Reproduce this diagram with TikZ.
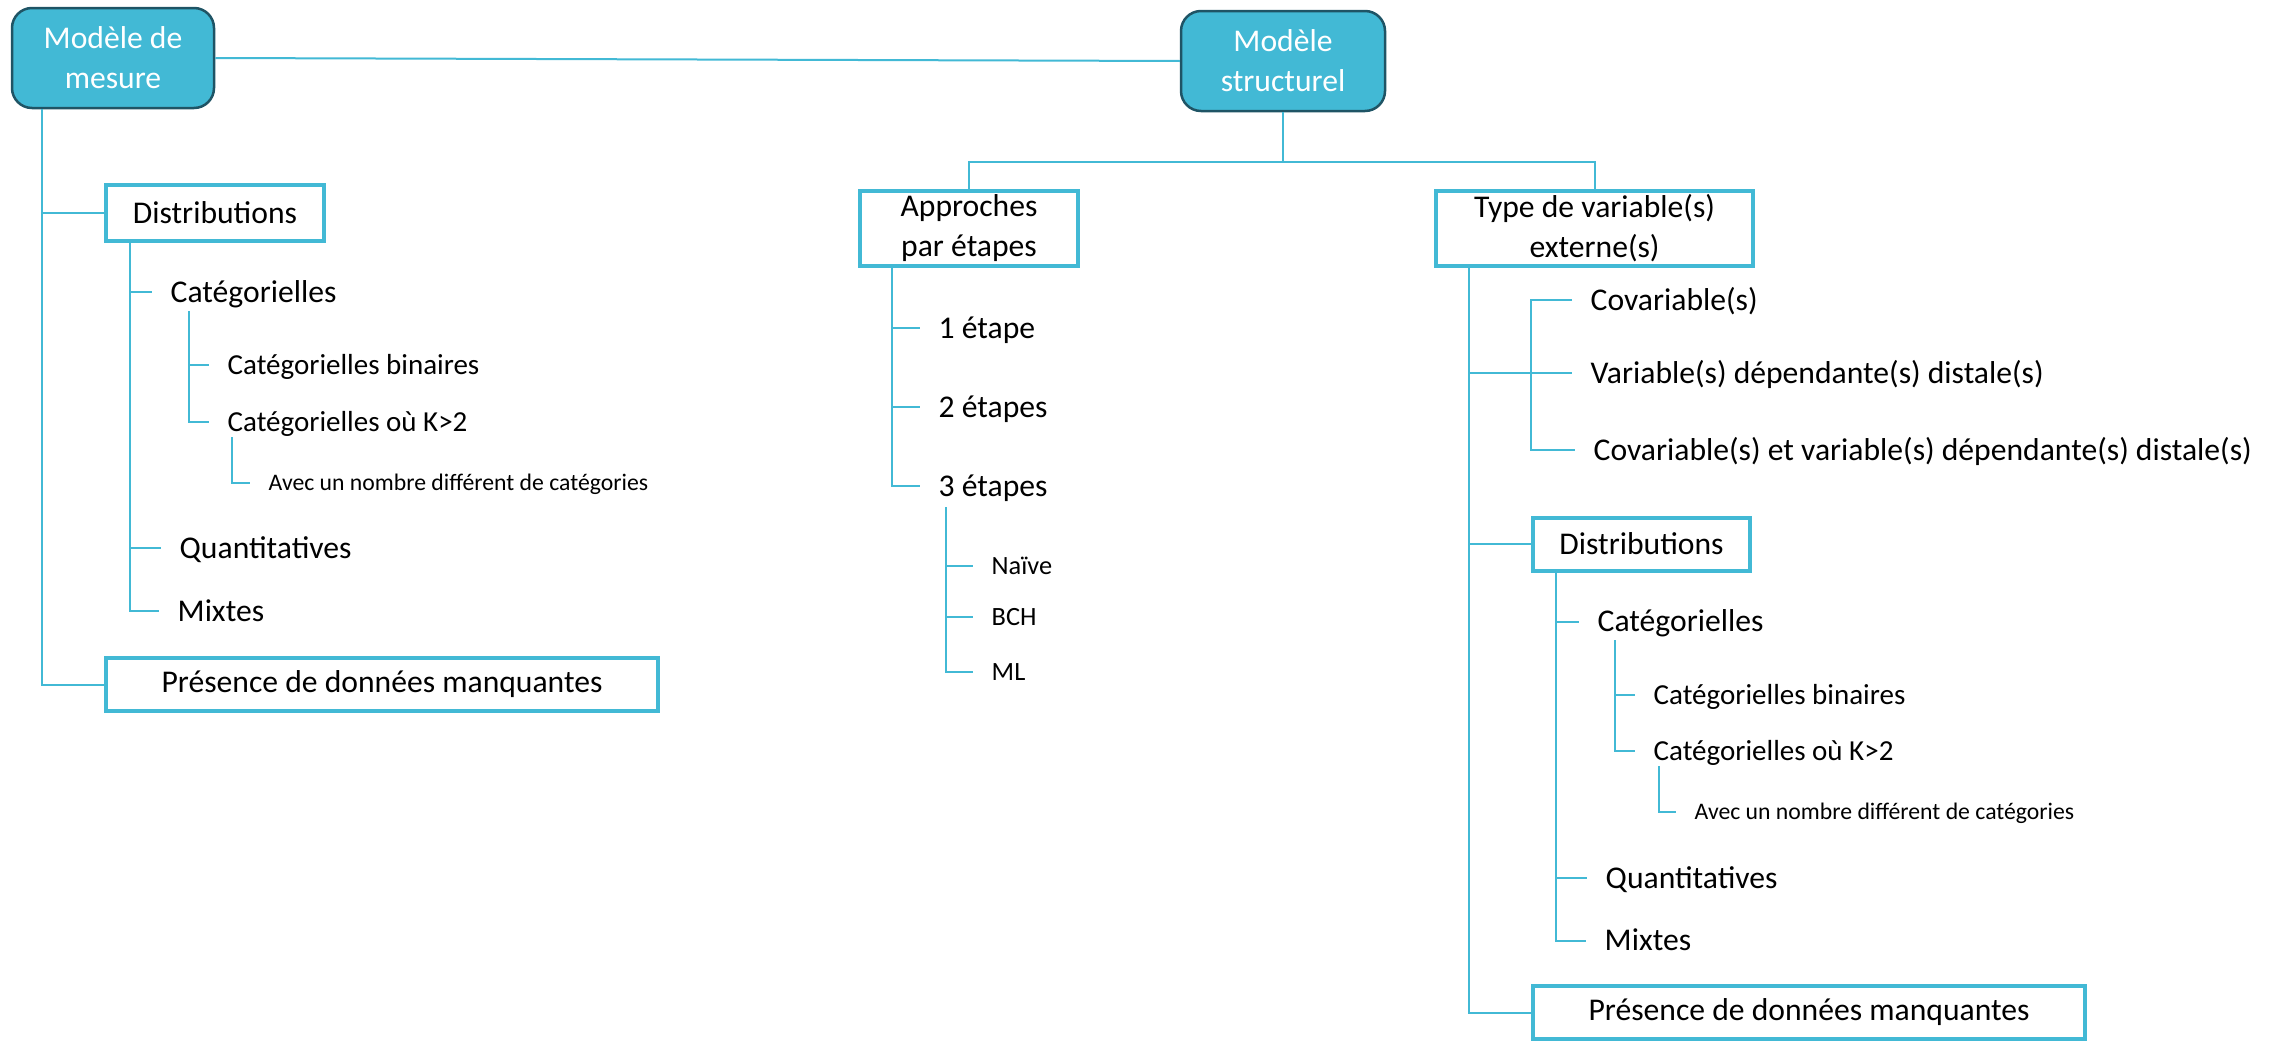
\documentclass[tikz,border=0pt]{standalone}
\usepackage{fontspec}
\setmainfont{Carlito}
\definecolor{boxblue}{HTML}{42B9D5}
\definecolor{boxdark}{HTML}{1F5465}

\begin{document}
\begin{tikzpicture}[x=0.1mm,y=-0.1mm,
  link/.style={draw=boxblue,line width=0.2mm},
  headbox/.style={draw=boxdark,line width=0.25mm,fill=boxblue,rounded corners=2mm,text=white,align=center,inner sep=0pt,minimum height=10mm,font=\fontsize{9}{11.4}\selectfont},
  catbox/.style={draw=boxblue,line width=0.4mm,fill=white,align=center,inner sep=0pt,font=\fontsize{9}{11.4}\selectfont},
  leaf/.style={anchor=west,inner xsep=1.8mm,inner ysep=0pt,text height=2mm,text depth=0pt,font=\fontsize{9}{9}\selectfont},
  subleaf/.style={leaf,text height=1.85mm,font=\fontsize{8.25}{8.25}\selectfont},
  methleaf/.style={leaf,text height=1.7mm,font=\fontsize{7.5}{7.5}\selectfont},
  noteleaf/.style={leaf,text height=1.5mm,font=\fontsize{6.75}{6.75}\selectfont}]
\useasboundingbox (0,0) rectangle (2282,1041);

\node[headbox,minimum width=20.2mm] (mesure) at (113,58) {Modèle de\\mesure};
\node[headbox,minimum width=20.4mm] (struct) at (1283,61) {Modèle\\structurel};
\draw[link] (mesure.east) -- (struct.west);

\node[catbox,minimum width=21.8mm,minimum height=5.6mm] (dist1) at (215,213) {Distributions};
\node[catbox,minimum width=55.2mm,minimum height=5.3mm] (pres1) at (382,684.5) {Présence de données manquantes};
\node[leaf] (cat1) at (152,292) {Catégorielles};
\node[subleaf] (bin1) at (209,365) {Catégorielles binaires};
\node[subleaf] (kk1) at (209,422) {Catégorielles où K>2};
\node[noteleaf] (nb1) at (250,483) {Avec un nombre différent de catégories};
\node[leaf] (quant1) at (161,548) {Quantitatives};
\node[leaf] (mix1) at (159,611) {Mixtes};
\coordinate (mv) at (41.5,109);
\coordinate (d1v) at (129.5,241);
\coordinate (c1v) at (189,311);
\coordinate (k1v) at (232,437);
\draw[link] (mv) |- (dist1.west);
\draw[link] (mv) |- (pres1.west);
\draw[link] (d1v) |- (cat1.west);
\draw[link] (d1v) |- (quant1.west);
\draw[link] (d1v) |- (mix1.west);
\draw[link] (c1v) |- (bin1.west);
\draw[link] (c1v) |- (kk1.west);
\draw[link] (k1v) |- (nb1.west);

\node[catbox,minimum width=21.8mm,minimum height=7.5mm] (appr) at (969,228.5) {Approches\\par étapes};
\node[catbox,minimum width=31.7mm,minimum height=7.5mm] (type) at (1594.5,228.5) {Type de variable(s)\\externe(s)};
\coordinate (sj) at (1283,162);
\draw[link] (struct.south) -- (sj);
\draw[link] (appr.north) |- (sj) -| (type.north);

\node[leaf] (e1) at (920,328) {1 étape};
\node[leaf] (e2) at (920,407) {2 étapes};
\node[leaf] (e3) at (920,486) {3 étapes};
\node[methleaf] (naive) at (973,566) {Naïve};
\node[methleaf] (bch) at (973,617) {BCH};
\node[methleaf] (ml) at (973,672) {ML};
\coordinate (av) at (892,266);
\coordinate (e3v) at (946,507);
\draw[link] (av) |- (e1.west);
\draw[link] (av) |- (e2.west);
\draw[link] (av) |- (e3.west);
\draw[link] (e3v) |- (naive.west);
\draw[link] (e3v) |- (bch.west);
\draw[link] (e3v) |- (ml.west);

\node[leaf] (cov) at (1572,300) {Covariable(s)};
\node[leaf] (var) at (1572,373) {Variable(s) dépendante(s) distale(s)};
\node[leaf] (covvar) at (1575,450) {Covariable(s) et variable(s) dépendante(s) distale(s)};
\node[catbox,minimum width=21.7mm,minimum height=5.3mm] (dist2) at (1641.5,544) {Distributions};
\node[catbox,minimum width=55.2mm,minimum height=5.3mm] (pres2) at (1809,1012.5) {Présence de données manquantes};
\coordinate (tv) at (1469,266);
\coordinate (cv) at (1531,373);
\draw[link] (tv) |- (var.west);
\draw[link] (cov.west) -| (cv) |- (covvar.west);
\draw[link] (tv) |- (dist2.west);
\draw[link] (tv) |- (pres2.west);

\node[leaf] (cat2) at (1579,621.5) {Catégorielles};
\node[subleaf] (bin2) at (1635,695) {Catégorielles binaires};
\node[subleaf] (kk2) at (1635,751) {Catégorielles où K>2};
\node[noteleaf] (nb2) at (1676,812) {Avec un nombre différent de catégories};
\node[leaf] (quant2) at (1587,878) {Quantitatives};
\node[leaf] (mix2) at (1586,940.6) {Mixtes};
\coordinate (d2v) at (1556,571);
\coordinate (c2v) at (1615,640);
\coordinate (k2v) at (1659,766);
\draw[link] (d2v) |- (cat2.west);
\draw[link] (d2v) |- (quant2.west);
\draw[link] (d2v) |- (mix2.west);
\draw[link] (c2v) |- (bin2.west);
\draw[link] (c2v) |- (kk2.west);
\draw[link] (k2v) |- (nb2.west);
\end{tikzpicture}
\end{document}
